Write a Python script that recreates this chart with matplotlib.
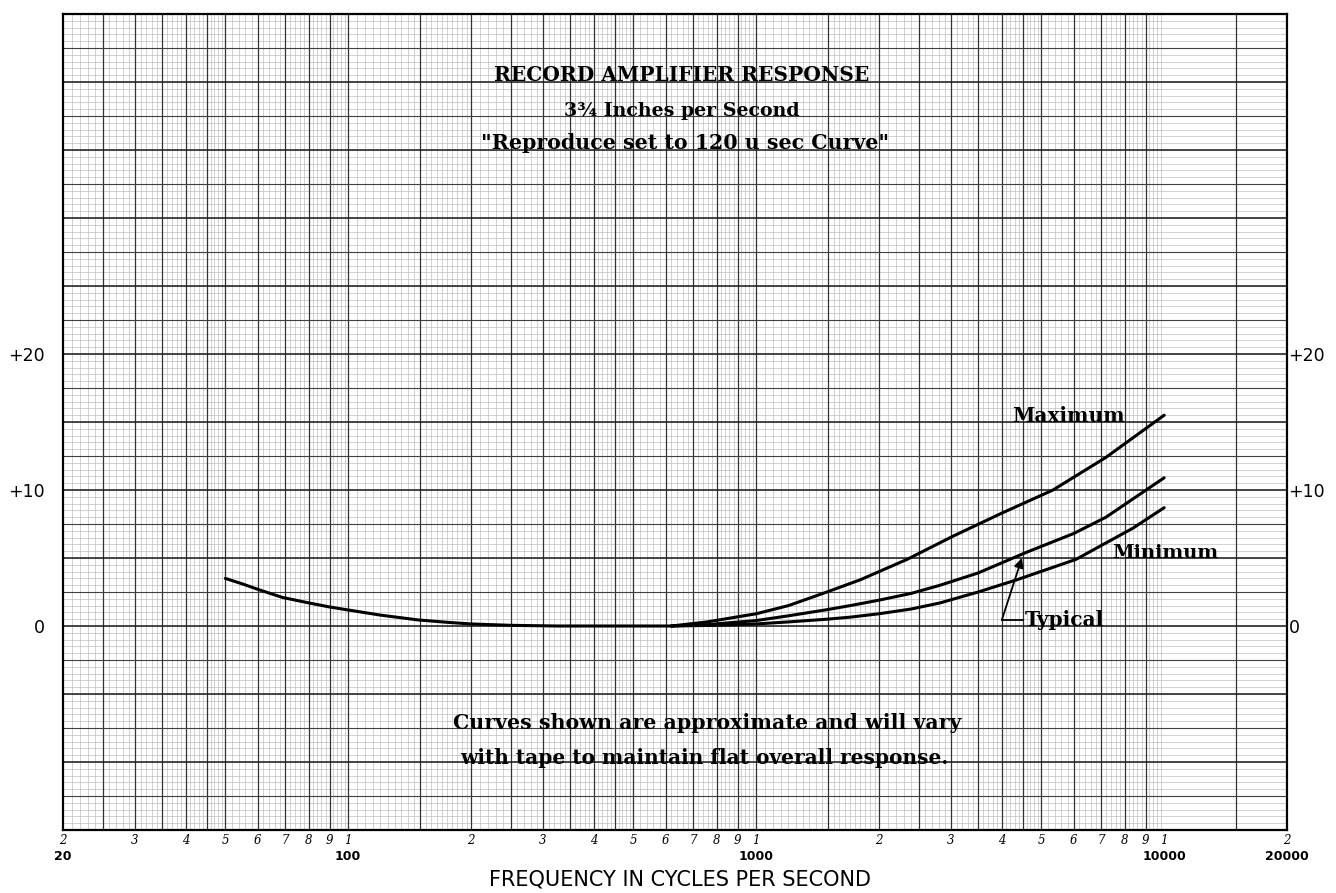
import matplotlib

matplotlib.use("Agg")
import matplotlib.pyplot as plt
import numpy as np

# shared low-frequency part of the response (Hz, dB)
common_freq = [50, 55, 60, 69, 80, 90, 99, 120, 148, 175, 200, 250, 325, 400, 500, 620]
common_db = [3.5, 3.1, 2.7, 2.1, 1.7, 1.4, 1.2, 0.8, 0.45, 0.27, 0.15, 0.05, 0.0, 0.0, 0.0, 0.0]

max_freq = [620, 758, 1000, 1200, 1491, 1800, 2344, 3035, 4000, 5340, 7200, 10000]
max_db = [0.0, 0.3, 0.9, 1.5, 2.5, 3.4, 4.9, 6.6, 8.3, 10.0, 12.4, 15.5]

typ_freq = [620, 758, 1000, 1200, 1491, 1700, 2000, 2400, 2825, 3500, 4580, 6000, 7200, 10000]
typ_db = [0.0, 0.1, 0.4, 0.75, 1.2, 1.5, 1.9, 2.4, 3.0, 3.9, 5.4, 6.8, 8.0, 10.9]

min_freq = [620, 800, 1000, 1200, 1491, 1700, 2000, 2400, 2825, 3500, 4356, 6080, 8390, 10000]
min_db = [0.0, 0.05, 0.15, 0.3, 0.5, 0.65, 0.9, 1.25, 1.7, 2.5, 3.4, 4.9, 7.2, 8.7]

tick_freqs = [20, 30, 40, 50, 60, 70, 80, 90,
              100, 200, 300, 400, 500, 600, 700, 800, 900,
              1000, 2000, 3000, 4000, 5000, 6000, 7000, 8000, 9000,
              10000, 20000]
tick_digits = ["2", "3", "4", "5", "6", "7", "8", "9",
               "1", "2", "3", "4", "5", "6", "7", "8", "9",
               "1", "2", "3", "4", "5", "6", "7", "8", "9",
               "1", "2"]
decade_freqs = [20, 100, 1000, 10000, 20000]
decade_labels = ["20", "100", "1000", "10000", "20000"]

db_ticks = [0, 10, 20]
db_labels = ["0", "+10", "+20"]

fig = plt.figure(figsize=(13.36, 8.93), dpi=100)
ax = fig.add_axes([63 / 1336, 63 / 893, 1224 / 1336, 816 / 893])
ax.set_xscale("log")
ax.set_xlim(20, 20000)
ax.set_ylim(-15, 45)

# log graph paper grid
fine_v = []
major_v = []
for dec in (10, 100, 1000):
    fine_v += list(dec * np.arange(1, 2, 0.05))
    fine_v += list(dec * np.arange(2, 5, 0.1))
    fine_v += list(dec * np.arange(5, 10, 0.2))
    major_v += [dec * m for m in (1, 1.5, 2, 2.5, 3, 3.5, 4, 4.5, 5, 6, 7, 8, 9)]
major_v += [15000]
fine_v = [f for f in fine_v if 20 <= f <= 10000]
major_v = [f for f in major_v if 20 < f < 20000]

ax.vlines(fine_v, -15, 45, colors="0.72", lw=0.45, zorder=0)
ax.vlines(major_v, -15, 45, colors="0.2", lw=0.9, zorder=1)
ax.hlines(np.arange(-15, 45, 0.5), 20, 20000, colors="0.72", lw=0.45, zorder=0)
ax.hlines(np.arange(-12.5, 45, 5), 20, 20000, colors="0.25", lw=0.8, zorder=1)
ax.hlines(np.arange(-10, 45, 5), 20, 20000, colors="0.1", lw=1.1, zorder=1)

for s in ax.spines.values():
    s.set_linewidth(1.6)
    s.set_color("black")

# curves
for fx, dy in ((common_freq, common_db), (max_freq, max_db),
               (typ_freq, typ_db), (min_freq, min_db)):
    ax.plot(fx, dy, color="black", lw=2.2, solid_capstyle="round",
            solid_joinstyle="round", zorder=3)

serif = dict(family="DejaVu Serif", weight="bold", color="black")

ax.text(4240, 15.0, "Maximum", fontsize=14.5, va="baseline", ha="left", **serif)
ax.text(7450, 5.0, "Minimum", fontsize=14, va="baseline", ha="left", **serif)
ax.text(4560, 0.0, "Typical", fontsize=14.5, va="baseline", ha="left", **serif)
ax.plot([4000, 4520], [0.44, 0.44], color="black", lw=1.3, zorder=3)
ax.annotate("", xy=(4480, 5.0), xytext=(4000, 0.44),
            arrowprops=dict(arrowstyle="-|>", color="black", lw=1.3,
                            mutation_scale=14, shrinkA=0, shrinkB=0))

# titles
ax.text(657, 40.5, "RECORD AMPLIFIER RESPONSE", fontsize=14.5, ha="center", va="center", **serif)
ax.text(657, 37.9, "3\u00be Inches per Second", fontsize=13.7, ha="center", va="center", **serif)
ax.text(670, 35.5, "\"Reproduce set to 120 u sec Curve\"", fontsize=14.8, ha="center", va="center", **serif)

ax.text(757, -7.1, "Curves shown are approximate and will vary", fontsize=14.8,
        ha="center", va="center", **serif)
ax.text(745, -9.7, "with tape to maintain flat overall response.", fontsize=14.5,
        ha="center", va="center", **serif)

# axes labels
ax.set_xticks(tick_freqs)
ax.set_xticklabels(tick_digits, fontsize=8.5, style="italic", family="DejaVu Serif")
ax.xaxis.set_minor_locator(matplotlib.ticker.NullLocator())
ax.tick_params(axis="x", length=0, pad=3)
for f, lab in zip(decade_freqs, decade_labels):
    ax.text(f, -0.033, lab, transform=ax.get_xaxis_transform(), fontsize=9,
            weight="bold", ha="center", va="center", family="DejaVu Sans")

ax.set_yticks(db_ticks)
ax.set_yticklabels(db_labels, fontsize=12.5)
ax.tick_params(axis="y", length=0, pad=13)
sec = ax.secondary_yaxis("right")
sec.set_yticks(db_ticks)
sec.set_yticklabels(db_labels, fontsize=12.5)
sec.tick_params(length=0, pad=1)
sec.spines["right"].set_visible(False)

fig.text(680 / 1336, 13 / 893, "FREQUENCY IN CYCLES PER SECOND", fontsize=15,
         ha="center", va="center", family="DejaVu Sans")

fig.savefig("out.png", dpi=100, facecolor="white")
